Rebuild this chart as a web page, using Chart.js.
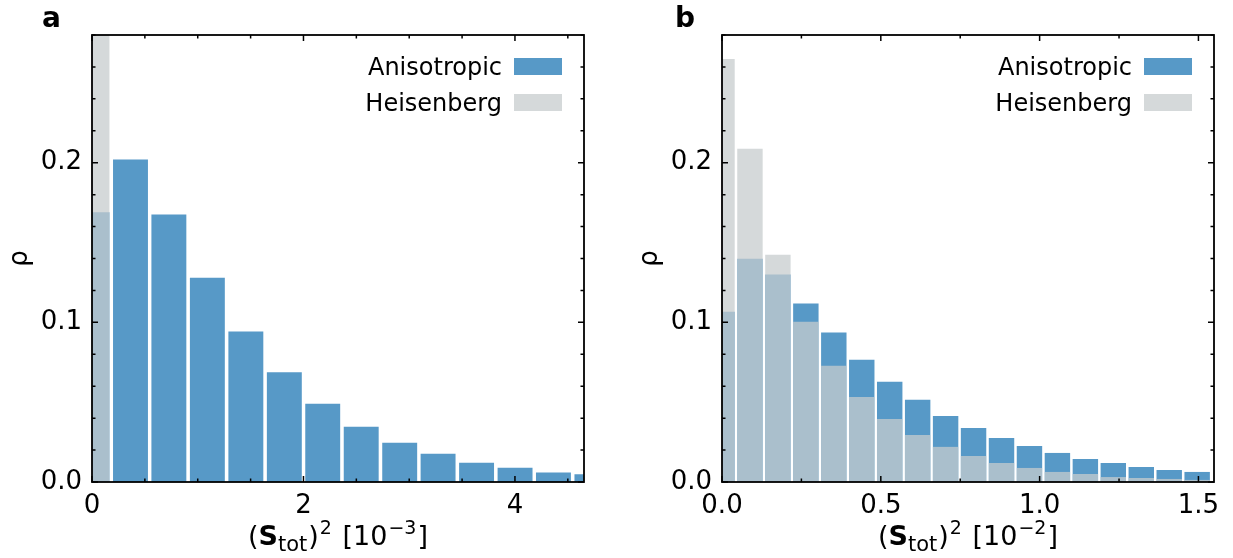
<!DOCTYPE html>
<html>
<head>
<meta charset="utf-8">
<script src="https://cdn.jsdelivr.net/npm/chart.js@4.4.1/dist/chart.umd.min.js"></script>
<style>
  html, body { margin: 0; padding: 0; background: #fff; }
  #wrap { position: relative; width: 1233px; height: 558px; overflow: hidden; }
  canvas { position: absolute; top: 0; }
  #chartA { left: 0; }
  #chartB { left: 616px; }
</style>
</head>
<body>
<div id="wrap">
  <canvas id="chartA" width="616" height="558"></canvas>
  <canvas id="chartB" width="617" height="558"></canvas>
</div>
<script>
// panel a : bin centres in units of 1e-3
const binsA = [0, 0.364, 0.727, 1.091, 1.455, 1.819, 2.182, 2.546, 2.910, 3.273, 3.637, 4.001, 4.364, 4.728];
const anisoA = [0.169, 0.202, 0.1676, 0.128, 0.0942, 0.0687, 0.0490, 0.0346, 0.0246, 0.0177, 0.0121, 0.0090, 0.0059, 0.0048];
const heisA = [2.75, 0, 0, 0, 0, 0, 0, 0, 0, 0, 0, 0, 0, 0];
const xTicksA = [0, 2, 4];

// panel b : bin centres in units of 1e-2
const binsB = [0, 0.088, 0.176, 0.264, 0.352, 0.440, 0.528, 0.616, 0.704, 0.792, 0.880, 0.968, 1.056, 1.144, 1.232, 1.320, 1.408, 1.496];
const anisoB = [0.1067, 0.1399, 0.1299, 0.1118, 0.0936, 0.0766, 0.0628, 0.0515, 0.0414, 0.0339, 0.0276, 0.0226, 0.0182, 0.0144, 0.0119, 0.0094, 0.0075, 0.0063];
const heisB = [0.265, 0.2088, 0.1424, 0.1004, 0.0728, 0.0533, 0.0395, 0.0295, 0.0220, 0.0163, 0.0119, 0.0088, 0.0063, 0.0050, 0.0031, 0.0025, 0.0019, 0.0013];
const xTicksB = [0.0, 0.5, 1.0, 1.5];

const yTicks = [0.0, 0.1, 0.2];
const seriesNames = ['Anisotropic', 'Heisenberg'];

const FONT = 'DejaVu Sans';
const blue = 'rgba(31,119,180,0.75)';
const grey = 'rgba(199,204,205,0.75)';

function stepsUpTo(max, step) {
  const out = [];
  for (let k = 0; k * step <= max + 1e-9; k++) out.push(k * step);
  return out;
}

// frame, inward ticks, legend inside the axes, mixed-font x label, panel letter
const panelDecor = {
  id: 'panelDecor',
  afterDraw(chart, args, o) {
    const { ctx, chartArea: a } = chart;
    const xs = chart.scales.x, ys = chart.scales.y;
    ctx.save();
    ctx.strokeStyle = '#000';
    ctx.lineWidth = 1.5;
    ctx.beginPath();
    stepsUpTo(xs.max, o.xMinor).forEach(v => {
      const px = xs.getPixelForValue(v);
      const len = Math.abs(v / o.xMajor - Math.round(v / o.xMajor)) < 1e-6 ? 6 : 3.5;
      ctx.moveTo(px, a.bottom); ctx.lineTo(px, a.bottom - len);
      ctx.moveTo(px, a.top); ctx.lineTo(px, a.top + len);
    });
    stepsUpTo(ys.max, o.yMinor).forEach(v => {
      const py = ys.getPixelForValue(v);
      const len = Math.abs(v / o.yMajor - Math.round(v / o.yMajor)) < 1e-6 ? 6 : 3.5;
      ctx.moveTo(a.left, py); ctx.lineTo(a.left + len, py);
      ctx.moveTo(a.right, py); ctx.lineTo(a.right - len, py);
    });
    ctx.stroke();
    ctx.lineWidth = 1.8;
    ctx.strokeRect(a.left, a.top, a.right - a.left, a.bottom - a.top);

    // legend: text then swatch, top right
    ctx.font = `24px "${FONT}"`;
    ctx.textAlign = 'right';
    ctx.textBaseline = 'alphabetic';
    chart.data.datasets.forEach((ds, i) => {
      const top = a.top + 23 + i * 36;
      const right = a.right - 22;
      ctx.fillStyle = ds.backgroundColor;
      ctx.fillRect(right - 48, top, 48, 17);
      ctx.fillStyle = '#000';
      ctx.fillText(ds.label, right - 60, top + 17);
    });

    // x label: (S_tot)^2 [10^-n]  -> [text, font, baseline shift, extra gap after]
    const big = `27px "${FONT}"`, bold = `bold 27px "${FONT}"`;
    const sub = `21px "${FONT}"`, sup = `19px "${FONT}"`;
    const parts = [
      ['(', big, 0, 0], ['S', bold, 0, 0], ['tot', sub, 6, 1], [')', big, 0, 1],
      ['2', sup, -11, 2], [' [10', big, 0, 1], ['\u2212' + o.exp, sup, -11, 1], [']', big, 0, 0]
    ];
    let w = 0;
    parts.forEach(p => { ctx.font = p[1]; w += ctx.measureText(p[0]).width + p[3]; });
    let x = (a.left + a.right) / 2 - w / 2;
    const base = 545;
    ctx.textAlign = 'left';
    parts.forEach(p => {
      ctx.font = p[1];
      ctx.fillText(p[0], x, base + p[2]);
      x += ctx.measureText(p[0]).width + p[3];
    });

    ctx.font = `bold 28px "${FONT}"`;
    ctx.fillText(o.panel, o.panelX, 27);
    ctx.restore();
  }
};

function makeChart(id, bins, aniso, heis, xTicks, cfg) {
  return new Chart(document.getElementById(id), {
    type: 'bar',
    data: {
      labels: bins,
      datasets: [
        { label: seriesNames[0], data: aniso, backgroundColor: blue, order: 2 },
        { label: seriesNames[1], data: heis, backgroundColor: grey, order: 1 }
      ]
    },
    options: {
      responsive: false,
      animation: false,
      events: [],
      grouped: false,
      barPercentage: 0.91,
      categoryPercentage: 1.0,
      layout: { padding: { left: 0, top: 35, right: cfg.padRight, bottom: 0 } },
      plugins: {
        legend: { display: false },
        tooltip: { enabled: false },
        panelDecor: cfg.decor
      },
      scales: {
        x: {
          type: 'linear',
          offset: false,
          min: 0,
          max: cfg.xMax,
          afterBuildTicks: s => { s.ticks = xTicks.map(v => ({ value: v })); },
          afterFit: s => { s.height = 76; },
          grid: { display: false, drawTicks: false, offset: false },
          border: { display: false },
          ticks: {
            padding: 9,
            color: '#000',
            font: { family: FONT, size: 26 },
            callback: v => cfg.xFmt(v)
          }
        },
        y: {
          min: 0,
          max: 0.28,
          afterBuildTicks: s => { s.ticks = yTicks.map(v => ({ value: v })); },
          afterFit: s => { s.width = cfg.yWidth; },
          grid: { display: false, drawTicks: false },
          border: { display: false },
          title: {
            display: true,
            text: '\u03c1',
            color: '#000',
            font: { family: FONT, size: 26 },
            padding: { top: cfg.titlePad, bottom: 0 }
          },
          ticks: {
            padding: 10,
            color: '#000',
            font: { family: FONT, size: 26 },
            callback: v => v.toFixed(1)
          }
        }
      }
    },
    plugins: [panelDecor]
  });
}

makeChart('chartA', binsA, anisoA, heisA, xTicksA, {
  xMax: 4.653, padRight: 32, yWidth: 92, titlePad: 5,
  xFmt: v => v.toFixed(0),
  decor: { xMinor: 0.5, xMajor: 2, yMinor: 0.02, yMajor: 0.1, exp: '3', panel: 'a', panelX: 42 }
});

makeChart('chartB', binsB, anisoB, heisB, xTicksB, {
  xMax: 1.549, padRight: 19, yWidth: 106, titlePad: 19,
  xFmt: v => v.toFixed(1),
  decor: { xMinor: 0.25, xMajor: 0.5, yMinor: 0.02, yMajor: 0.1, exp: '2', panel: 'b', panelX: 59 }
});
</script>
</body>
</html>
